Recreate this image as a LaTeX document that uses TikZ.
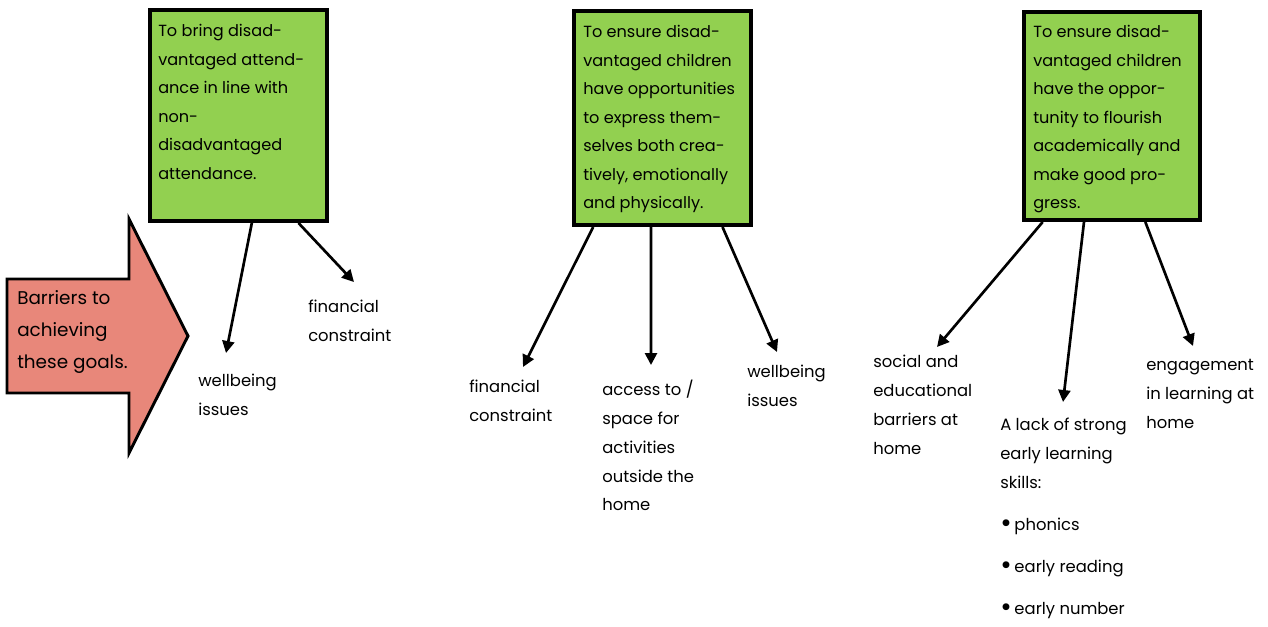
\documentclass[tikz,border=0pt]{standalone}
\usepackage{fontspec}
\setmainfont{Poppins}
\usetikzlibrary{arrows.meta}
\definecolor{goalgreen}{RGB}{146,208,80}
\definecolor{barrierred}{RGB}{232,135,122}
\newcommand{\bigdot}{\raisebox{-0.2ex}{\scalebox{1.7}{\textbullet}}}
\tikzset{
  goal/.style={draw=black, line width=3pt, fill=goalgreen, inner sep=0pt},
  goaltext/.style={align=left, anchor=north west, inner sep=0pt, font=\fontsize{12.1}{21.4}\selectfont},
  lbl/.style={align=left, anchor=north west, inner sep=0pt, font=\fontsize{12.3}{21.6}\selectfont},
  arr/.style={line width=2pt, -{Triangle[length=9pt,width=9pt]}},
}
\begin{document}
\begin{tikzpicture}[x=0.75pt,y=-0.75pt]
\useasboundingbox (0,0) rectangle (1268,626);
% red arrow
\draw[line width=2.2pt, fill=barrierred, line join=miter]
  (7,279) -- (129,279) -- (129,219) -- (188,336) -- (129,453) -- (129,393) -- (7,393) -- cycle;
\node[align=left, anchor=north west, inner sep=0pt, font=\fontsize{13.8}{24}\selectfont] (barrier) at (17,290) {Barriers to\\achieving\\these goals.};
% goal boxes
\node[goal, minimum width=132.75pt, minimum height=158.25pt] (b1) at (238.5,115.5) {};
\node[goal, minimum width=132.75pt, minimum height=160.5pt] (b2) at (662.5,118) {};
\node[goal, minimum width=132pt, minimum height=156pt] (b3) at (1112,116) {};
\node[goaltext] (t1) at (158,24) {To bring disad-\\vantaged attend-\\ance in line with\\non-\\disadvantaged\\attendance.};
\node[goaltext] (t2) at (583,25) {To ensure disad-\\vantaged children\\have opportunities\\to express them-\\selves both crea-\\tively, emotionally\\and physically.};
\node[goaltext] (t3) at (1033,25) {To ensure disad-\\vantaged children\\have the oppor-\\tunity to flourish\\academically and\\make good pro-\\gress.};
% labels
\node[lbl] (w1) at (198,374) {wellbeing\\issues};
\node[lbl] (f1) at (308,300) {financial\\constraint};
\node[lbl] (f2) at (469,380) {financial\\constraint};
\node[lbl] (acc) at (602,380) {access to /\\space for\\activities\\outside the\\home};
\node[lbl] (w2) at (747,365) {wellbeing\\issues};
\node[lbl] (soc) at (873,355) {social and\\educational\\barriers at\\home};
\node[lbl] (lack) at (1000,418) {A lack of strong\\early learning\\skills:\\[10pt]\bigdot\,phonics\\[10pt]\bigdot\,early reading\\[10pt]\bigdot\,early number};
\node[lbl] (eng) at (1146,359) {engagement\\in learning at\\home};
% arrow tips
\coordinate (p1) at (226,353);
\coordinate (p2) at (354,282);
\coordinate (p3) at (523,367);
\coordinate (p4) at (651,365);
\coordinate (p5) at (777,352);
\coordinate (p6) at (937,347);
\coordinate (p7) at (1063,402);
\coordinate (p8) at (1193,346);
% arrows
\draw[arr] ([xshift=10pt]b1.south) -- (p1);
\draw[arr] ([xshift=45pt]b1.south) -- (p2);
\draw[arr] ([xshift=-52pt]b2.south) -- (p3);
\draw[arr] ([xshift=-8.6pt]b2.south) -- (p4);
\draw[arr] ([xshift=45pt]b2.south) -- (p5);
\draw[arr] ([xshift=-52pt]b3.south) -- (p6);
\draw[arr] ([xshift=-21pt]b3.south) -- (p7);
\draw[arr] ([xshift=25pt]b3.south) -- (p8);
\end{tikzpicture}
\end{document}
